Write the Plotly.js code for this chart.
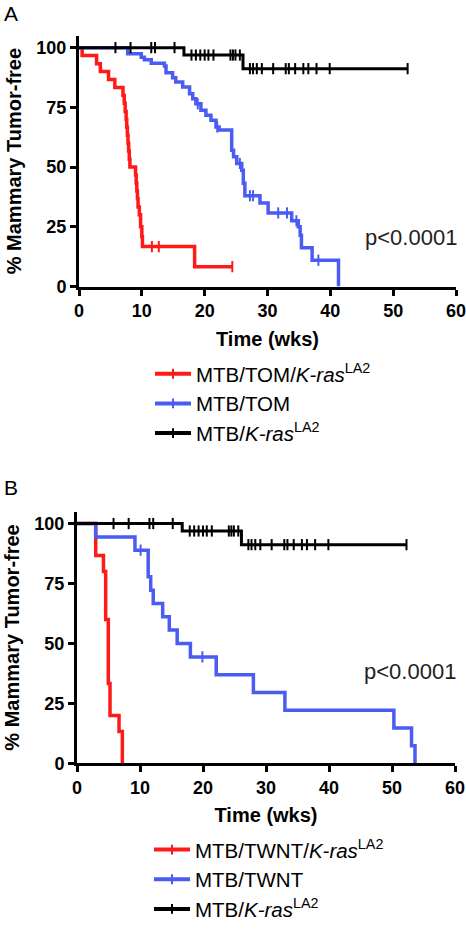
<!DOCTYPE html>
<html>
<head>
<meta charset="utf-8">
<script src="https://cdn.plot.ly/plotly-3.0.1.min.js"></script>
<style>html,body{margin:0;padding:0;background:#fff;}#chart{width:466px;height:929px;}</style>
</head>
<body>
<div id="chart"></div>
<script>
// ---------- Panel A data (time in weeks, % tumor-free) ----------
var redATime = [0, 0.5, 2.8, 3.4, 4.7, 5.7, 7.0, 7.2, 7.35, 7.5, 7.6, 7.7, 7.8, 7.9, 8.0, 8.1, 9.0, 9.1, 9.2, 9.3, 9.4, 9.6, 9.8, 10.0, 10.1, 18.4, 24.4];
var redASurv = [100, 96.7, 93.3, 90, 86.7, 83.3, 80, 76.7, 73.3, 70, 66.7, 63.3, 60, 56.7, 53.3, 50, 46.7, 43.3, 40, 36.7, 33.3, 30, 25, 20.8, 16.7, 8.3, 8.3];
var redACens = [11.6, 12.7, 24.4];

var blueATime = [0, 7.75, 9.9, 10.4, 11.5, 13.6, 13.85, 14.9, 15.4, 16.5, 17.6, 18.1, 18.6, 19.4, 20.2, 21.0, 21.8, 22.3, 24.3, 24.6, 25.1, 25.9, 26.15, 26.4, 28.8, 30.1, 33.85, 34.9, 35.2, 35.4, 37.1, 41.3];
var blueASurv = [100, 97.4, 96, 94.9, 93.5, 92.3, 89.5, 87.4, 85.6, 83.5, 80.7, 78.6, 76.5, 73.8, 71.7, 69.6, 66.8, 65.5, 57, 54.3, 51.5, 48.7, 43.2, 38, 35, 30.8, 27.5, 25, 21.5, 16.2, 11, 0];
var blueACens = [18.9, 22.0, 25.6, 27.2, 27.7, 31.7, 33.1, 34.6, 38.1];

// ---------- Control group MTB/K-rasLA2 (same in A and B) ----------
var blackTime = [0, 16.7, 26.1, 52.3];
var blackSurv = [100, 96.9, 91.2, 91.2];
var blackCens = [5.8, 8.2, 11.5, 12.1, 15.2, 17.9, 18.6, 19.3, 20.0, 20.6, 21.4, 24.1, 24.5, 24.9, 25.6,
                 27.2, 27.7, 28.3, 29.1, 30.9, 32.9, 33.4, 34.4, 35.7, 36.5, 37.8, 39.9, 52.3];

// ---------- Panel B data ----------
var redBTime = [0, 2.97, 4.2, 4.55, 4.97, 5.24, 6.67, 7.2];
var redBSurv = [100, 86.7, 80, 60, 33.3, 20, 13.3, 0];
var redBCens = [];

var blueBTime = [0, 2.97, 9.2, 11.3, 11.7, 12.1, 13.6, 14.65, 15.9, 18.0, 22.1, 28.0, 33.0, 50.3, 53.1, 53.65];
var blueBSurv = [100, 94.4, 88.9, 77.8, 72.2, 66.7, 61.1, 55.6, 50, 44.4, 37.0, 29.6, 22.2, 14.8, 7.4, 0];
var blueBCens = [10.1, 19.9];

// ---------- Labels ----------
var legendA = ['MTB/TOM/<i>K-ras</i><sup>LA2</sup>', 'MTB/TOM', 'MTB/<i>K-ras</i><sup>LA2</sup>'];
var legendB = ['MTB/TWNT/<i>K-ras</i><sup>LA2</sup>', 'MTB/TWNT', 'MTB/<i>K-ras</i><sup>LA2</sup>'];
var xTicks = [0, 10, 20, 30, 40, 50, 60];
var yTicks = [0, 25, 50, 75, 100];
var pText = 'p<0.0001';

var RED = '#ff1a1a', BLUE = '#4b5cf2', BLACK = '#000000';
var FONT = 'Liberation Sans, Arial, Helvetica, sans-serif';

function levelAt(times, surv, t) {
  var v = surv[0];
  for (var i = 0; i < times.length; i++) { if (times[i] <= t) v = surv[i]; }
  return v;
}

var traces = [];
function addGroup(times, surv, cens, color, width, name, xa, ya, legend) {
  traces.push({
    x: times, y: surv, xaxis: xa, yaxis: ya, type: 'scatter', mode: 'lines',
    line: {shape: 'hv', color: color, width: width}, showlegend: false, hoverinfo: 'skip', cliponaxis: false
  });
  if (cens.length) {
    traces.push({
      x: cens, y: cens.map(function (t) { return levelAt(times, surv, t); }),
      xaxis: xa, yaxis: ya, type: 'scatter', mode: 'markers', showlegend: false, cliponaxis: false,
      marker: {symbol: 'line-ns-open', size: 8, color: color, line: {color: color, width: 2}}
    });
  }
  traces.push({
    x: [null], y: [null], xaxis: xa, yaxis: ya, type: 'scatter', mode: 'lines+markers', name: name,
    legend: legend, line: {color: color, width: 4},
    marker: {symbol: 'line-ns-open', size: 7, color: color, line: {color: color, width: 2}}
  });
}

addGroup(redATime, redASurv, redACens, RED, 3.5, legendA[0], 'x', 'y', 'legend');
addGroup(blueATime, blueASurv, blueACens, BLUE, 3.5, legendA[1], 'x', 'y', 'legend');
addGroup(blackTime, blackSurv, blackCens, BLACK, 3, legendA[2], 'x', 'y', 'legend');
addGroup(redBTime, redBSurv, redBCens, RED, 3.5, legendB[0], 'x2', 'y2', 'legend2');
addGroup(blueBTime, blueBSurv, blueBCens, BLUE, 3.5, legendB[1], 'x2', 'y2', 'legend2');
addGroup(blackTime, blackSurv, blackCens, BLACK, 3, legendB[2], 'x2', 'y2', 'legend2');

var W = 466, H = 929;
function px(x) { return x / W; }
function py(y) { return 1 - y / H; }

function xAxis(domain, anchor) {
  return {
    domain: domain, anchor: anchor, range: [0, 60], tickvals: xTicks, ticktext: xTicks.map(String),
    showline: true, linewidth: 3, linecolor: '#000', ticks: 'outside', ticklen: 6, tickwidth: 3, tickcolor: '#000',
    showgrid: false, zeroline: false, fixedrange: true, ticklabeloverflow: 'allow',
    tickfont: {family: FONT, size: 18, color: '#000', weight: 'bold'},
    title: {text: '<b>Time (wks)</b>', font: {family: FONT, size: 20, color: '#000'}, standoff: 12}
  };
}
function yAxis(domain, anchor) {
  return {
    domain: domain, anchor: anchor, range: [0, 105], tickvals: yTicks, ticktext: yTicks.map(String),
    showline: true, linewidth: 3, linecolor: '#000', ticks: 'outside', ticklen: 6, tickwidth: 3, tickcolor: '#000',
    showgrid: false, zeroline: false, fixedrange: true, ticklabeloverflow: 'allow',
    tickfont: {family: FONT, size: 18, color: '#000', weight: 'bold'},
    title: {text: '<b>% Mammary Tumor-free</b>', font: {family: FONT, size: 20, color: '#000'}, standoff: 10}
  };
}

var legendStyle = function (x, y) {
  return {x: x, y: y, xanchor: 'left', yanchor: 'top', bgcolor: 'rgba(0,0,0,0)', borderwidth: 0,
          font: {family: FONT, size: 20.5, color: '#000'}, tracegroupgap: 0, itemwidth: 36};
};

function note(text, x, y, size, color) {
  return {text: text, xref: 'paper', yref: 'paper', x: px(x), y: py(y), xanchor: 'center', yanchor: 'middle',
          showarrow: false, font: {family: FONT, size: size, color: color}};
}

var layout = {
  width: W, height: H, margin: {l: 0, r: 0, t: 0, b: 0},
  paper_bgcolor: '#fff', plot_bgcolor: '#fff', showlegend: true,
  xaxis: xAxis([px(79), px(456)], 'y'),
  yaxis: yAxis([py(289), py(36)], 'x'),
  xaxis2: xAxis([px(77), px(455)], 'y2'),
  yaxis2: yAxis([py(770), py(516)], 'x2'),
  legend: legendStyle(px(150), py(357)),
  legend2: legendStyle(px(149), py(837)),
  annotations: [
    note('A', 11, 14, 21, '#000'),
    note('B', 11, 492, 21, '#000'),
    note(pText, 411, 240, 22, '#222'),
    note(pText, 410, 677, 22, '#222')
  ]
};

Plotly.newPlot('chart', traces, layout, {displayModeBar: false, staticPlot: true});
</script>
</body>
</html>
